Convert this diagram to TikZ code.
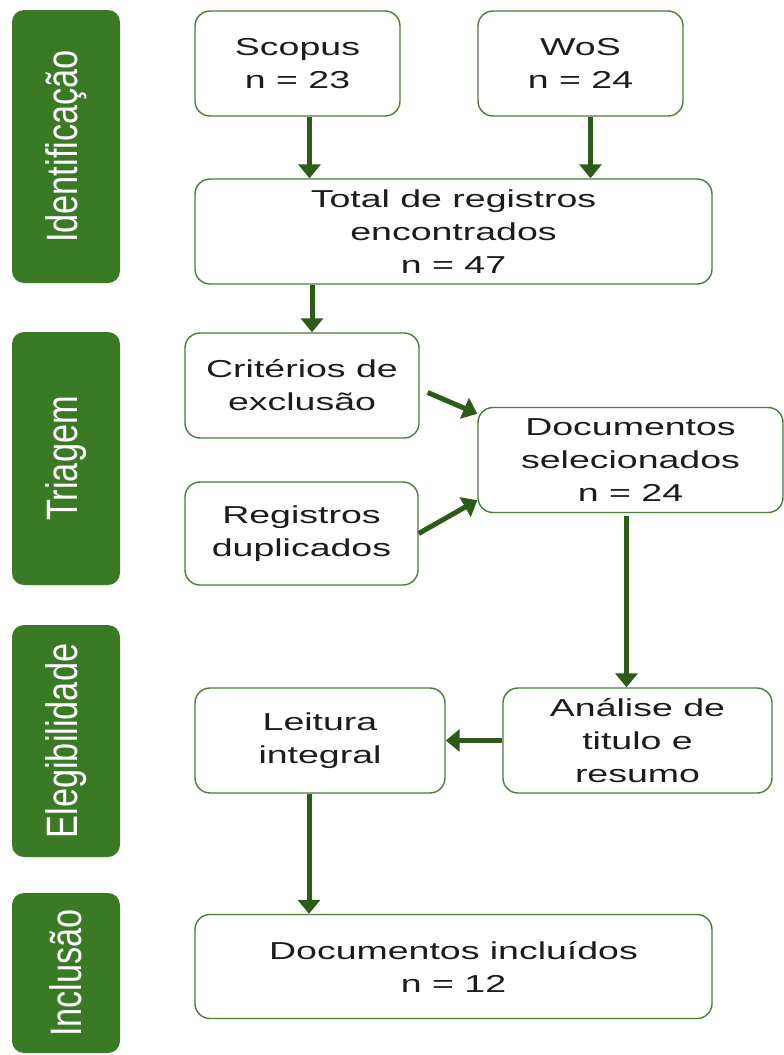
\documentclass[tikz,border=0pt]{standalone}
\usepackage{fontspec}
\usepackage{tikz}
\usepackage{xcolor}
\usetikzlibrary{arrows.meta,positioning,calc}
\newfontfamily\boxfont[FakeStretch=1.53]{Liberation Sans}
\newfontfamily\barfont[FakeStretch=0.78]{Liberation Sans}
\definecolor{bargreen}{HTML}{3B7A24}
\definecolor{edgegreen}{HTML}{4C7D38}
\definecolor{arrgreen}{HTML}{2C5A18}
\definecolor{ink}{HTML}{1C1C1C}
\tikzset{
  stagebox/.style={draw=edgegreen,fill=white,line width=1.4pt,rounded corners=15pt,
                   align=center,inner sep=2pt,text=ink,
                   font=\boxfont\fontsize{24.5}{33}\selectfont},
  phasebar/.style={fill=bargreen,rounded corners=12pt,rotate=90,
                   minimum height=108pt,inner sep=0pt,text=white,
                   font=\barfont\fontsize{44}{44}\selectfont},
  flowarr/.style={-{Triangle[length=14pt,width=22pt]},line width=5pt,color=arrgreen}
}
\begin{document}
\begin{tikzpicture}[x=1pt,y=-1pt]
  \useasboundingbox (0,0) rectangle (784,1055);
  % phases
  \node[phasebar,minimum width=273pt] (ident) at (66,146.5) {Identificação};
  \node[phasebar,minimum width=253pt] (triag) at (66,458.5) {Triagem};
  \node[phasebar,minimum width=232pt] (eleg) at (66,741) {Elegibilidade};
  \node[phasebar,minimum width=160pt] (inclu) at (66,973) {Inclusão};
  % boxes
  \node[stagebox,minimum width=205pt,minimum height=105pt] (scopus) at (297.5,63.5) {Scopus\\n = 23};
  \node[stagebox,minimum width=205pt,minimum height=105pt] (wos) at (580.5,63.5) {WoS\\n = 24};
  \node[stagebox,minimum width=517pt,minimum height=105pt] (total) at (453.5,231.5) {Total de registros\\encontrados\\n = 47};
  \node[stagebox,minimum width=234pt,minimum height=105pt] (crit) at (302,385.5) {Critérios de\\exclusão};
  \node[stagebox,minimum width=233pt,minimum height=103pt] (dup) at (301.5,533.5) {Registros\\duplicados};
  \node[stagebox,minimum width=305pt,minimum height=105pt] (sel) at (630.5,460) {Documentos\\selecionados\\n = 24};
  \node[stagebox,minimum width=269pt,minimum height=105pt] (anal) at (637.5,740.5) {Análise de\\titulo e\\resumo};
  \node[stagebox,minimum width=250pt,minimum height=105pt] (leit) at (320,740.5) {Leitura\\integral};
  \node[stagebox,minimum width=517pt,minimum height=104pt] (incl) at (453.5,966.5) {Documentos incluídos\\n = 12};
  % arrows
  \draw[flowarr] ([xshift=12pt]scopus.south) -- ([xshift=12pt]scopus.south |- total.north);
  \draw[flowarr] ([xshift=10pt]wos.south) -- ([xshift=10pt]wos.south |- total.north);
  \draw[flowarr] ([xshift=10pt]crit.north |- total.south) -- ([xshift=10pt]crit.north);
  \draw[flowarr] ($(crit.east)+(8,7)$) -- ($(sel.north west)+(0,7)$);
  \draw[flowarr] (dup.east) -- ($(sel.south west)+(0,-13)$);
  \draw[flowarr] ([xshift=-4pt,yshift=-3pt]sel.south) -- ([xshift=-4pt]sel.south |- anal.north);
  \draw[flowarr] (anal.west) -- (leit.east);
  \draw[flowarr] ([xshift=-11pt]leit.south) -- ([xshift=-11pt]leit.south |- incl.north);
\end{tikzpicture}
\end{document}
